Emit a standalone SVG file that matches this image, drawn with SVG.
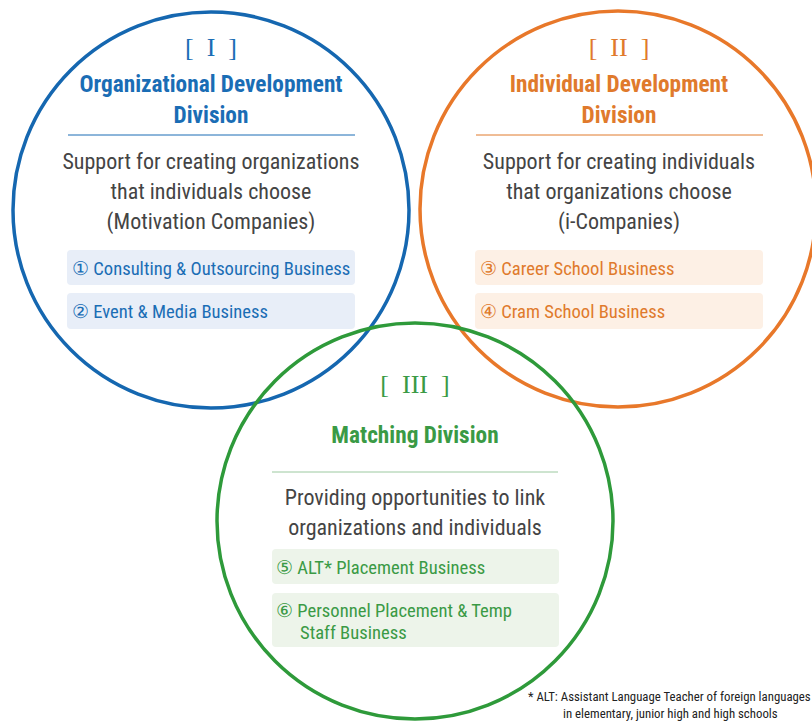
<svg xmlns="http://www.w3.org/2000/svg" width="812" height="721" viewBox="0 0 812 721">
<style>
text{font-family:"Liberation Sans Narrow","Roboto Condensed","Liberation Sans",Arial,sans-serif}
.br{font-family:"Liberation Serif","DejaVu Serif",serif;font-size:26px;text-anchor:middle;white-space:pre}
.ttl{font-size:23.3px;font-weight:bold;text-anchor:middle}
.body{font-size:22px;fill:#444;text-anchor:middle}
.item{font-size:18.6px}
.ring{fill:none;stroke-width:3.5}
.foot{font-size:12.8px;fill:#222;white-space:pre}
</style>
<rect width="812" height="721" fill="#fff"/>
<g id="division-1">
<rect x="67" y="250" width="288" height="35" rx="4" fill="#e8eef8"/>
<rect x="67" y="293" width="288" height="36" rx="4" fill="#e8eef8"/>
<text class="br" x="211" y="56" fill="#1a6db5">[  I  ]</text>
<text class="ttl" x="211" y="92" fill="#1a6db5">Organizational Development</text>
<text class="ttl" x="211" y="123" fill="#1a6db5">Division</text>
<line x1="68" y1="135" x2="355" y2="135" stroke="#1a6db5" stroke-width="1"/>
<text class="body" x="211" y="169">Support for creating organizations</text>
<text class="body" x="211" y="199">that individuals choose</text>
<text class="body" x="211" y="229">(Motivation Companies)</text>
<text class="item" x="72" y="275" fill="#1a6db5">① Consulting &amp; Outsourcing Business</text>
<text class="item" x="72" y="318" fill="#1a6db5">② Event &amp; Media Business</text>
</g>
<g id="division-2">
<rect x="475" y="250" width="288" height="35" rx="4" fill="#fdf0e5"/>
<rect x="475" y="293" width="288" height="36" rx="4" fill="#fdf0e5"/>
<text class="br" x="619" y="56" fill="#e07a2c">[  II  ]</text>
<text class="ttl" x="619" y="92" fill="#e07a2c">Individual Development</text>
<text class="ttl" x="619" y="123" fill="#e07a2c">Division</text>
<line x1="476" y1="135" x2="763" y2="135" stroke="#e07a2c" stroke-width="1"/>
<text class="body" x="619" y="169">Support for creating individuals</text>
<text class="body" x="619" y="199">that organizations choose</text>
<text class="body" x="619" y="229">(i-Companies)</text>
<text class="item" x="480" y="275" fill="#e07a2c">③ Career School Business</text>
<text class="item" x="480" y="318" fill="#e07a2c">④ Cram School Business</text>
</g>
<g id="division-3">
<rect x="272" y="549" width="287" height="35" rx="4" fill="#edf4ea"/>
<rect x="272" y="593" width="287" height="54" rx="4" fill="#edf4ea"/>
<text class="br" x="415" y="393" fill="#3a9a45">[  III  ]</text>
<text class="ttl" x="415" y="443" fill="#3a9a45">Matching Division</text>
<line x1="272" y1="472" x2="558" y2="472" stroke="#9cc9a0" stroke-width="1"/>
<text class="body" x="415" y="505">Providing opportunities to link</text>
<text class="body" x="415" y="535">organizations and individuals</text>
<text class="item" x="276" y="574" fill="#3a9a45">⑤ ALT* Placement Business</text>
<text class="item" x="276" y="617" fill="#3a9a45">⑥ Personnel Placement &amp; Temp</text>
<text class="item" x="300" y="639" fill="#3a9a45">Staff Business</text>
</g>
<g id="rings">
<circle class="ring" cx="211" cy="210" r="198" stroke="#1567b0"/>
<circle class="ring" cx="618" cy="209" r="198" stroke="#e8782a"/>
<circle class="ring" cx="415" cy="521" r="198" stroke="#2e9a3a"/>
</g>
<g id="footnote">
<text class="foot" x="528" y="701">* ALT: Assistant Language Teacher of foreign languages</text>
<text class="foot" x="563" y="718">in elementary, junior high and high schools</text>
</g>
</svg>
